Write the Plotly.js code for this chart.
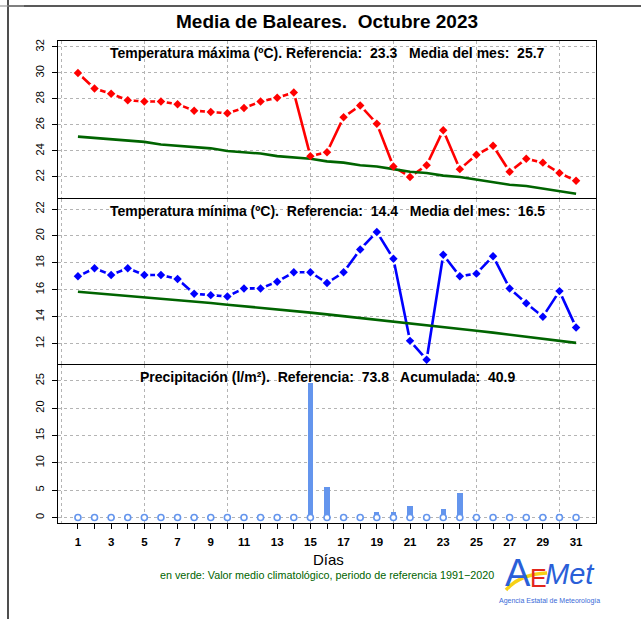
<!DOCTYPE html>
<html>
<head>
<meta charset="utf-8">
<script src="https://cdn.plot.ly/plotly-3.0.1.min.js"></script>
<style>html,body{margin:0;padding:0;background:#fff;}</style>
</head>
<body>
<div id="chart" style="width:641px;height:619px;"></div>
<script>
// ---- DATA ----
const days = [1,2,3,4,5,6,7,8,9,10,11,12,13,14,15,16,17,18,19,20,21,22,23,24,25,26,27,28,29,30,31];
const tmax = [30.0,28.8,28.4,27.9,27.8,27.8,27.6,27.1,27.0,26.9,27.3,27.8,28.1,28.5,23.6,23.9,26.6,27.5,26.1,22.8,22.0,22.9,25.6,22.6,23.7,24.4,22.4,23.4,23.1,22.3,21.7];
const tmaxClim = [25.1,25.0,24.9,24.8,24.7,24.5,24.4,24.3,24.2,24.0,23.9,23.8,23.6,23.5,23.4,23.2,23.1,22.9,22.8,22.6,22.4,22.3,22.1,22.0,21.8,21.6,21.4,21.3,21.1,20.9,20.7];
const tmin = [17.0,17.6,17.1,17.6,17.1,17.1,16.8,15.7,15.6,15.5,16.1,16.1,16.6,17.3,17.3,16.5,17.3,19.0,20.3,18.3,12.2,10.8,18.6,17.0,17.2,18.5,16.1,15.0,14.0,15.9,13.2];
const tminClim = [15.85,15.75,15.65,15.55,15.44,15.34,15.23,15.12,15.01,14.89,14.78,14.66,14.54,14.42,14.30,14.17,14.04,13.91,13.78,13.65,13.51,13.37,13.24,13.09,12.95,12.81,12.66,12.51,12.36,12.20,12.05];
const precip = [0,0,0,0,0,0,0,0,0,0,0,0,0,0,24.6,5.6,0,0,1.0,1.0,2.1,0,1.5,4.5,0,0,0,0,0,0.6,0];
const xTickLabels = days.map(d => (d % 2 === 1) ? String(d) : '');
const xGridVals = [0,5,10,15,20,25,30];
const yTicksMax = [22,24,26,28,30,32];
const yTicksMin = [12,14,16,18,20,22];
const yTicksPrec = [0,5,10,15,20,25];

// ---- geometry helpers (decoration placement only) ----
const L = 58, R = 596, T = 41, B = 523;
const PX = x => (x - L) / (R - L);
const PY = y => (B - y) / (B - T);

const FONT = 'Liberation Sans, Arial, Helvetica, sans-serif';
const NARROW = 'Liberation Sans Narrow, Liberation Sans, sans-serif';
const GRID = '#b4b4b4';
const RED = '#ff0000', BLUE = '#0000ff', GREEN = '#006400', PBLUE = '#6495ed';

function xAx(anchor) {
  return {anchor: anchor, range: [-0.2, 32.2], tickmode: 'array', tickvals: xGridVals,
    showticklabels: false, ticks: '', showgrid: true, gridcolor: GRID, griddash: 'dot', gridwidth: 1,
    showline: true, mirror: true, linecolor: '#000', linewidth: 1, zeroline: false};
}
function yAx(anchor, domain, range, vals) {
  return {anchor: anchor, domain: domain, range: range, tickmode: 'array', tickvals: vals,
    ticks: 'outside', ticklen: 5, tickcolor: '#000', tickangle: -90, ticklabelstandoff: 4,
    tickfont: {size: 11, color: '#000', family: FONT},
    showgrid: true, gridcolor: GRID, griddash: 'dot', gridwidth: 1,
    showline: true, mirror: true, linecolor: '#000', linewidth: 1, zeroline: false};
}

function tempTraces(vals, clim, color, xa, ya) {
  return [
    {x: days, y: vals, mode: 'lines', line: {color: color, width: 2.6}, xaxis: xa, yaxis: ya, hoverinfo: 'skip'},
    {x: days, y: vals, mode: 'markers', marker: {symbol: 'circle', size: 12, color: '#ffffff'}, xaxis: xa, yaxis: ya, hoverinfo: 'skip'},
    {x: days, y: clim, mode: 'lines', line: {color: GREEN, width: 2.6}, xaxis: xa, yaxis: ya},
    {x: days, y: vals, mode: 'markers', marker: {symbol: 'diamond', size: 6.5, color: color}, xaxis: xa, yaxis: ya}
  ];
}

const traces = [].concat(
  tempTraces(tmax, tmaxClim, RED, 'x', 'y'),
  tempTraces(tmin, tminClim, BLUE, 'x2', 'y2'),
  [
    {type: 'bar', x: days, y: precip, width: 0.32, marker: {color: PBLUE, line: {width: 0}}, xaxis: 'x3', yaxis: 'y3'},
    {x: days, y: days.map(() => 0), mode: 'markers', marker: {symbol: 'circle', size: 6, color: '#ffffff', line: {color: PBLUE, width: 1.6}}, xaxis: 'x4', yaxis: 'y3'}
  ]
);

const nb = '\u00a0';
const annotations = [
  {text: '<b>Media de Baleares.' + nb + ' Octubre 2023</b>', x: 0.5, y: PY(22), font: {size: 19, family: FONT, color: '#000'}},
  {text: '<b>Temperatura máxima (ºC). Referencia:' + nb + ' 23.3' + nb + nb + ' Media del mes:' + nb + ' 25.7</b>', x: 0.5, y: PY(53), font: {size: 14, family: FONT, color: '#000'}},
  {text: '<b>Temperatura mínima (ºC).' + nb + ' Referencia:' + nb + ' 14.4' + nb + nb + ' Media del mes:' + nb + ' 16.5</b>', x: 0.5, y: PY(211), font: {size: 14, family: FONT, color: '#000'}},
  {text: '<b>Precipitación (l/m²).' + nb + ' Referencia:' + nb + ' 73.8' + nb + nb + ' Acumulada:' + nb + ' 40.9</b>', x: 0.5, y: PY(377), font: {size: 14, family: FONT, color: '#000'}},
  {text: 'Días', x: PX(328), y: PY(559), font: {size: 15, family: FONT, color: '#000'}},
  {text: 'en verde: Valor medio climatológico, periodo de referencia 1991\u22122020', x: PX(327), y: PY(575), font: {size: 10.75, family: FONT, color: GREEN}},
  // logo
  {text: 'A', x: PX(518), y: PY(573), font: {size: 38, family: NARROW, color: '#2a5fd8'}, borderpad: 0},
  {text: 'E', x: PX(538), y: PY(578), font: {size: 25, family: NARROW, color: '#e3261c'}, borderpad: 0},
  {text: '<i>Met</i>', x: PX(570), y: PY(574), font: {size: 29, family: NARROW, color: '#2a5fd8'}, borderpad: 0},
  {text: 'Agencia Estatal de Meteorología', x: PX(549), y: PY(601), font: {size: 7, family: NARROW, color: '#3a6ad8'}, borderpad: 0}
].map(a => Object.assign({xref: 'paper', yref: 'paper', showarrow: false, xanchor: 'center', yanchor: 'middle'}, a));

const shapes = [
  {type: 'line', xref: 'paper', yref: 'paper', x0: PX(8), x1: PX(8), y0: PY(0), y1: PY(619), line: {color: '#222', width: 1.6}},
  {type: 'line', xref: 'paper', yref: 'paper', x0: PX(8), x1: PX(641), y0: PY(6), y1: PY(6), line: {color: '#222', width: 1.6}},
  {type: 'line', xref: 'paper', yref: 'paper', x0: PX(0), x1: PX(24), y0: PY(6), y1: PY(6), line: {color: '#999', width: 1.2}},
  {type: 'path', xref: 'paper', yref: 'paper', layer: 'above',
   path: 'M ' + PX(506) + ' ' + PY(590) + ' Q ' + PX(520) + ' ' + PY(574) + ' ' + PX(547) + ' ' + PY(573),
   line: {color: '#f7d117', width: 3.5}}
];

const layout = {
  width: 641, height: 619,
  margin: {l: L, r: 641 - R, t: T, b: 619 - B, pad: 0},
  paper_bgcolor: '#ffffff', plot_bgcolor: '#ffffff',
  showlegend: false,
  font: {family: FONT, color: '#000'},
  xaxis: xAx('y'),
  yaxis: yAx('x', [0.6743, 1], [20.38, 32.46], yTicksMax),
  xaxis2: xAx('y2'),
  yaxis2: yAx('x2', [0.3299, 0.6722], [10.48, 22.75], yTicksMin),
  xaxis3: xAx('y3'),
  yaxis3: yAx('x3', [0, 0.3278], [-1.0, 27.9], yTicksPrec),
  xaxis4: {overlaying: 'x3', anchor: 'y3', side: 'bottom', range: [-0.2, 32.2], tickmode: 'array',
    tickvals: days, ticktext: xTickLabels, ticks: 'outside', ticklen: 5, tickcolor: '#000',
    ticklabelstandoff: 3, tickfont: {size: 11.5, weight: 'bold', family: FONT, color: '#000'},
    showgrid: false, showline: false, zeroline: false},
  annotations: annotations,
  shapes: shapes,
  bargap: 0
};

Plotly.newPlot('chart', traces, layout, {displayModeBar: false, staticPlot: true});
</script>
</body>
</html>
